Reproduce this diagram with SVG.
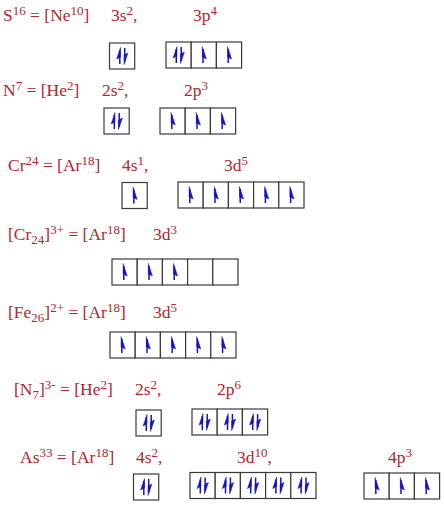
<svg xmlns="http://www.w3.org/2000/svg" xmlns:xlink="http://www.w3.org/1999/xlink" width="444" height="506" viewBox="0 0 444 506">
<style>
text{font-family:"Liberation Serif","Times New Roman",serif;font-size:17.5px;fill:#b3262c}
.s{font-size:13px}
.box{fill:#fff;stroke:#3a3a3a;stroke-width:1.2}
.ar{fill:#1414c4;stroke:#1414c4}
</style>
<defs>
<g id="up" class="ar"><line x1="0" y1="8" x2="0" y2="-6" stroke-width="1.5"/><path d="M-0.7,-8.5 L3.4,4 L-0.7,2 Z" stroke-width="0.5"/></g>
<g id="upl" class="ar"><line x1="0" y1="8" x2="0" y2="-6" stroke-width="1.5"/><path d="M0.7,-8.5 L-3.2,3 L0.7,1 Z" stroke-width="0.5"/></g>
<g id="dnr" class="ar"><line x1="0" y1="-8" x2="0" y2="6" stroke-width="1.5"/><path d="M-0.7,8.5 L3.2,-3 L-0.7,-1 Z" stroke-width="0.5"/></g>
<g id="pair"><use xlink:href="#upl" x="-2.3" y="0"/><use xlink:href="#dnr" x="2.6" y="0"/></g>
</defs>
<rect width="444" height="506" fill="#fff"/>

<g id="row-S">
<text x="3" y="21">S<tspan class="s" dy="-6.5">16</tspan><tspan dy="6.5"> = [Ne</tspan><tspan class="s" dy="-6.5">10</tspan><tspan dy="6.5">]</tspan></text>
<text x="111" y="21">3s<tspan class="s" dy="-6.5">2</tspan><tspan dy="6.5">,</tspan></text>
<text x="193" y="21">3p<tspan class="s" dy="-6.5">4</tspan></text>
<rect class="box" x="109.5" y="43" width="25.2" height="26"/>
<rect class="box" x="166" y="42" width="25.2" height="26"/>
<rect class="box" x="191.2" y="42" width="25.2" height="26"/>
<rect class="box" x="216.4" y="42" width="25.2" height="26"/>
<use xlink:href="#pair" x="122.1" y="56"/>
<use xlink:href="#pair" x="178.6" y="55"/>
<use xlink:href="#up" x="203" y="55"/>
<use xlink:href="#up" x="228.2" y="55"/>
</g>

<g id="row-N">
<text x="3" y="96">N<tspan class="s" dy="-6.5">7</tspan><tspan dy="6.5"> = [He</tspan><tspan class="s" dy="-6.5">2</tspan><tspan dy="6.5">]</tspan></text>
<text x="102" y="96">2s<tspan class="s" dy="-6.5">2</tspan><tspan dy="6.5">,</tspan></text>
<text x="184" y="96">2p<tspan class="s" dy="-6.5">3</tspan></text>
<rect class="box" x="104" y="108" width="25.2" height="26"/>
<rect class="box" x="160" y="108" width="25.2" height="26"/>
<rect class="box" x="185.2" y="108" width="25.2" height="26"/>
<rect class="box" x="210.4" y="108" width="25.2" height="26"/>
<use xlink:href="#pair" x="116.6" y="121"/>
<use xlink:href="#up" x="171.8" y="121"/>
<use xlink:href="#up" x="197" y="121"/>
<use xlink:href="#up" x="222.2" y="121"/>
</g>

<g id="row-Cr">
<text x="8" y="171">Cr<tspan class="s" dy="-6.5">24</tspan><tspan dy="6.5"> = [Ar</tspan><tspan class="s" dy="-6.5">18</tspan><tspan dy="6.5">]</tspan></text>
<text x="122" y="171">4s<tspan class="s" dy="-6.5">1</tspan><tspan dy="6.5">,</tspan></text>
<text x="224" y="171">3d<tspan class="s" dy="-6.5">5</tspan></text>
<rect class="box" x="122" y="182.5" width="25.2" height="26"/>
<rect class="box" x="178" y="182" width="25.2" height="26"/>
<rect class="box" x="203.2" y="182" width="25.2" height="26"/>
<rect class="box" x="228.4" y="182" width="25.2" height="26"/>
<rect class="box" x="253.6" y="182" width="25.2" height="26"/>
<rect class="box" x="278.8" y="182" width="25.2" height="26"/>
<use xlink:href="#up" x="133.8" y="195.5"/>
<use xlink:href="#up" x="189.8" y="195"/>
<use xlink:href="#up" x="215" y="195"/>
<use xlink:href="#up" x="240.2" y="195"/>
<use xlink:href="#up" x="265.4" y="195"/>
<use xlink:href="#up" x="290.6" y="195"/>
</g>

<g id="row-Cr3">
<text x="8" y="240">[Cr<tspan class="s" dy="4">24</tspan><tspan dy="-4">]</tspan><tspan class="s" dy="-6.5">3+</tspan><tspan dy="6.5"> = [Ar</tspan><tspan class="s" dy="-6.5">18</tspan><tspan dy="6.5">]</tspan></text>
<text x="153" y="240">3d<tspan class="s" dy="-6.5">3</tspan></text>
<rect class="box" x="112" y="259" width="25.2" height="26"/>
<rect class="box" x="137.2" y="259" width="25.2" height="26"/>
<rect class="box" x="162.4" y="259" width="25.2" height="26"/>
<rect class="box" x="187.6" y="259" width="25.2" height="26"/>
<rect class="box" x="212.8" y="259" width="25.2" height="26"/>
<use xlink:href="#up" x="123.8" y="272"/>
<use xlink:href="#up" x="149" y="272"/>
<use xlink:href="#up" x="174.2" y="272"/>
</g>

<g id="row-Fe2">
<text x="8" y="318">[Fe<tspan class="s" dy="4">26</tspan><tspan dy="-4">]</tspan><tspan class="s" dy="-6.5">2+</tspan><tspan dy="6.5"> = [Ar</tspan><tspan class="s" dy="-6.5">18</tspan><tspan dy="6.5">]</tspan></text>
<text x="153" y="318">3d<tspan class="s" dy="-6.5">5</tspan></text>
<rect class="box" x="110" y="332" width="25.2" height="26"/>
<rect class="box" x="135.2" y="332" width="25.2" height="26"/>
<rect class="box" x="160.4" y="332" width="25.2" height="26"/>
<rect class="box" x="185.6" y="332" width="25.2" height="26"/>
<rect class="box" x="210.8" y="332" width="25.2" height="26"/>
<use xlink:href="#up" x="121.8" y="345"/>
<use xlink:href="#up" x="147" y="345"/>
<use xlink:href="#up" x="172.2" y="345"/>
<use xlink:href="#up" x="197.4" y="345"/>
<use xlink:href="#up" x="222.6" y="345"/>
</g>

<g id="row-N3">
<text x="14" y="395">[N<tspan class="s" dy="4">7</tspan><tspan dy="-4">]</tspan><tspan class="s" dy="-6.5">3-</tspan><tspan dy="6.5"> = [He</tspan><tspan class="s" dy="-6.5">2</tspan><tspan dy="6.5">]</tspan></text>
<text x="135" y="395">2s<tspan class="s" dy="-6.5">2</tspan><tspan dy="6.5">,</tspan></text>
<text x="217" y="395">2p<tspan class="s" dy="-6.5">6</tspan></text>
<rect class="box" x="136" y="410" width="25.2" height="26"/>
<rect class="box" x="192" y="409" width="25.2" height="26"/>
<rect class="box" x="217.2" y="409" width="25.2" height="26"/>
<rect class="box" x="242.4" y="409" width="25.2" height="26"/>
<use xlink:href="#pair" x="148.6" y="423"/>
<use xlink:href="#pair" x="204.6" y="422"/>
<use xlink:href="#pair" x="229.8" y="422"/>
<use xlink:href="#pair" x="255" y="422"/>
</g>

<g id="row-As">
<text x="20" y="463">As<tspan class="s" dy="-6.5">33</tspan><tspan dy="6.5"> = [Ar</tspan><tspan class="s" dy="-6.5">18</tspan><tspan dy="6.5">]</tspan></text>
<text x="136" y="463">4s<tspan class="s" dy="-6.5">2</tspan><tspan dy="6.5">,</tspan></text>
<text x="237" y="463">3d<tspan class="s" dy="-6.5">10</tspan><tspan dy="6.5">,</tspan></text>
<text x="388" y="463">4p<tspan class="s" dy="-6.5">3</tspan></text>
<rect class="box" x="133.5" y="474" width="25.2" height="26"/>
<rect class="box" x="190" y="472.5" width="25.2" height="26"/>
<rect class="box" x="215.2" y="472.5" width="25.2" height="26"/>
<rect class="box" x="240.4" y="472.5" width="25.2" height="26"/>
<rect class="box" x="265.6" y="472.5" width="25.2" height="26"/>
<rect class="box" x="290.8" y="472.5" width="25.2" height="26"/>
<rect class="box" x="364" y="473" width="25.2" height="26"/>
<rect class="box" x="389.2" y="473" width="25.2" height="26"/>
<rect class="box" x="414.4" y="473" width="25.2" height="26"/>
<use xlink:href="#pair" x="146.1" y="487"/>
<use xlink:href="#pair" x="202.6" y="485.5"/>
<use xlink:href="#pair" x="227.8" y="485.5"/>
<use xlink:href="#pair" x="253" y="485.5"/>
<use xlink:href="#pair" x="278.2" y="485.5"/>
<use xlink:href="#pair" x="303.4" y="485.5"/>
<use xlink:href="#up" x="375.8" y="486"/>
<use xlink:href="#up" x="401" y="486"/>
<use xlink:href="#up" x="426.2" y="486"/>
</g>
</svg>
